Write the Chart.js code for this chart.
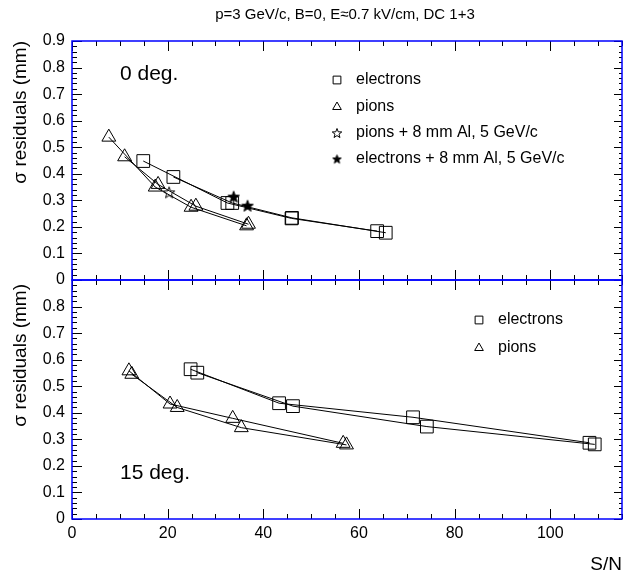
<!DOCTYPE html>
<html>
<head>
<meta charset="utf-8">
<script src="https://cdn.jsdelivr.net/npm/chart.js@4.4.1/dist/chart.umd.min.js"></script>
<style>
  body { margin: 0; background: #fff; }
  #c { display: block; }
</style>
</head>
<body>
<canvas id="c" width="637" height="577"></canvas>
<script>
// S/N axis ticks
var snTicks = [0, 20, 40, 60, 80, 100];

// 0 deg. panel
var top_elecA_sn  = [14.9, 32.5, 45.9, 63.8];
var top_elecA_res = [0.448, 0.290, 0.232, 0.184];
var top_elecB_sn  = [21.2, 33.5, 46.0, 65.6];
var top_elecB_res = [0.388, 0.290, 0.234, 0.178];
var top_pionA_sn  = [7.7, 17.4, 24.9, 36.5];
var top_pionA_res = [0.538, 0.350, 0.274, 0.204];
var top_pionB_sn  = [11.0, 18.0, 25.9, 36.9];
var top_pionB_res = [0.464, 0.360, 0.278, 0.210];
var top_pionAl_sn  = [20.3];
var top_pionAl_res = [0.330];
var top_elecAl_sn  = [33.8, 36.7];
var top_elecAl_res = [0.314, 0.280];

// 15 deg. panel
var bot_elecA_sn  = [24.8, 43.3, 71.3, 108.2];
var bot_elecA_res = [0.564, 0.436, 0.383, 0.287];
var bot_elecB_sn  = [26.2, 46.2, 74.2, 109.3];
var bot_elecB_res = [0.551, 0.425, 0.348, 0.281];
var bot_pionA_sn  = [11.9, 20.5, 33.6, 56.7];
var bot_pionA_res = [0.558, 0.433, 0.379, 0.285];
var bot_pionB_sn  = [12.5, 22.0, 35.4, 57.4];
var bot_pionB_res = [0.545, 0.420, 0.344, 0.279];

var FONT = "'Liberation Sans', Arial, sans-serif";
Chart.defaults.font.family = FONT;
Chart.defaults.color = '#000';

function pts(xs, ys) {
    return xs.map(function(x, i) { return {x: x, y: ys[i]}; });
}

// five pointed star marker, drawn to a small canvas
function makeStar(r, filled) {
    var size = Math.ceil(r * 2 + 2);
    var cv = document.createElement('canvas');
    cv.width = size; cv.height = size;
    var g = cv.getContext('2d');
    var cx = size / 2, cy = size / 2 + r * 0.1;
    g.beginPath();
    for (var i = 0; i < 10; i++) {
        var rr = (i % 2 === 0) ? r : r * 0.42;
        var a = -Math.PI / 2 + i * Math.PI / 5;
        var px = cx + rr * Math.cos(a), py = cy + rr * Math.sin(a);
        if (i === 0) g.moveTo(px, py); else g.lineTo(px, py);
    }
    g.closePath();
    g.lineWidth = 1;
    g.strokeStyle = '#000';
    if (filled) { g.fillStyle = '#000'; g.fill(); }
    g.stroke();
    return cv;
}

var starOpen = makeStar(6, false);
var starFull = makeStar(6, true);
var starOpenSmall = makeStar(5, false);
var starFullSmall = makeStar(4.5, true);

function series(data, axis, style, radius, line) {
    return {
        data: data,
        yAxisID: axis,
        showLine: line,
        borderColor: '#000',
        borderWidth: 1,
        pointStyle: style,
        pointRadius: radius,
        pointHoverRadius: radius,
        pointBorderColor: '#000',
        pointBackgroundColor: 'rgba(0,0,0,0)',
        pointBorderWidth: 1,
        tension: 0
    };
}

var datasets = [
    series(pts(top_elecA_sn, top_elecA_res), 'yTop', 'rect', 9, true),
    series(pts(top_elecB_sn, top_elecB_res), 'yTop', 'rect', 9, true),
    series(pts(top_pionA_sn, top_pionA_res), 'yTop', 'triangle', 8, true),
    series(pts(top_pionB_sn, top_pionB_res), 'yTop', 'triangle', 8, true),
    series(pts(top_pionAl_sn, top_pionAl_res), 'yTop', starOpen, 6, false),
    series(pts(top_elecAl_sn, top_elecAl_res), 'yTop', starFull, 6, false),
    series(pts(bot_elecA_sn, bot_elecA_res), 'yBot', 'rect', 9, true),
    series(pts(bot_elecB_sn, bot_elecB_res), 'yBot', 'rect', 9, true),
    series(pts(bot_pionA_sn, bot_pionA_res), 'yBot', 'triangle', 8, true),
    series(pts(bot_pionB_sn, bot_pionB_res), 'yBot', 'triangle', 8, true)
];

function resLabel(v) {
    return v === 0 ? '0' : v.toFixed(1);
}

function yAxis(hideTop) {
    return {
        type: 'linear',
        position: 'left',
        stack: 'panels',
        stackWeight: 1,
        min: 0,
        max: 0.9,
        grid: { display: false, drawTicks: false },
        border: { display: false },
        ticks: {
            stepSize: 0.1,
            autoSkip: false,
            padding: 7,
            font: { size: 16 },
            callback: function(v) {
                if (hideTop && Math.abs(v - 0.9) < 1e-6) return '';
                return resLabel(v);
            }
        },
        afterFit: function(scale) { scale.width = 72; }
    };
}

// frame, inward ticks and all the text that ROOT puts on the pad
var padDecor = {
    id: 'padDecor',
    afterDraw: function(chart) {
        var ctx = chart.ctx;
        var xs = chart.scales.x;
        var panels = [chart.scales.yTop, chart.scales.yBot];
        var L = xs.left, R = xs.right;
        ctx.save();

        // tick marks
        ctx.strokeStyle = '#000';
        ctx.lineWidth = 1;
        ctx.beginPath();
        panels.forEach(function(ys) {
            var T = ys.top, B = ys.bottom;
            for (var v = 0; v <= 115; v += 5) {
                var px = Math.round(xs.getPixelForValue(v)) + 0.5;
                var len = (v % 20 === 0) ? 10 : 5;
                ctx.moveTo(px, B); ctx.lineTo(px, B - len);
                ctx.moveTo(px, T); ctx.lineTo(px, T + len);
            }
            for (var k = 0; k <= 45; k++) {
                var py = Math.round(ys.getPixelForValue(k * 0.02)) + 0.5;
                var l2 = (k % 5 === 0) ? 10 : 5;
                ctx.moveTo(L, py); ctx.lineTo(L + l2, py);
                ctx.moveTo(R, py); ctx.lineTo(R - l2 + 2, py);
            }
        });
        ctx.stroke();

        // blue pad frames
        ctx.strokeStyle = '#0000ff';
        ctx.lineWidth = 1.5;
        panels.forEach(function(ys) {
            ctx.strokeRect(L, ys.top, R - L, ys.bottom - ys.top);
        });

        // title
        ctx.fillStyle = '#000';
        ctx.textBaseline = 'middle';
        ctx.textAlign = 'center';
        ctx.font = '15px ' + FONT;
        ctx.fillText('p=3 GeV/c, B=0, E\u22480.7 kV/cm, DC 1+3', 345, 15);

        // panel labels
        ctx.textAlign = 'left';
        ctx.font = '21px ' + FONT;
        ctx.fillText('0 deg.', 120, 74);
        ctx.fillText('15 deg.', 120, 473);

        // axis titles
        ctx.font = '19px ' + FONT;
        ctx.textAlign = 'right';
        panels.forEach(function(ys, i) {
            ctx.save();
            ctx.translate(21, ys.top + (i === 0 ? 0 : 4));
            ctx.rotate(-Math.PI / 2);
            ctx.fillText('\u03c3 residuals (mm)', 0, 0);
            ctx.restore();
        });
        ctx.font = '19px ' + FONT;
        ctx.fillText('S/N', R, 565);

        // legends
        var h = Chart.helpers;
        function sym(style, r, x, y) {
            h.drawPoint(ctx, { pointStyle: style, radius: r, rotation: 0, borderWidth: 1 }, x, y);
        }
        ctx.strokeStyle = '#000';
        ctx.fillStyle = 'rgba(0,0,0,0)';
        ctx.lineWidth = 1;
        sym('rect', 5.5, 337, 80);
        sym('triangle', 5, 337, 107);
        sym(starOpenSmall, 5, 337, 133);
        sym(starFullSmall, 5, 337, 159);
        sym('rect', 5.5, 479, 320);
        sym('triangle', 5, 479, 348);

        ctx.fillStyle = '#000';
        ctx.textAlign = 'left';
        ctx.font = '16px ' + FONT;
        ctx.fillText('electrons', 356, 80);
        ctx.fillText('pions', 356, 107);
        ctx.fillText('pions + 8 mm Al, 5 GeV/c', 356, 133);
        ctx.fillText('electrons + 8 mm Al, 5 GeV/c', 356, 159);
        ctx.fillText('electrons', 498, 320);
        ctx.fillText('pions', 498, 348);

        ctx.restore();
    }
};

var chart = new Chart(document.getElementById('c'), {
    type: 'scatter',
    data: { datasets: datasets },
    options: {
        responsive: false,
        animation: false,
        layout: { padding: { top: 41, right: 15, left: 0, bottom: 0 } },
        plugins: {
            legend: { display: false },
            tooltip: { enabled: false },
            title: { display: false }
        },
        scales: {
            x: {
                type: 'linear',
                position: 'bottom',
                min: 0,
                max: 115,
                grid: { display: false, drawTicks: false },
                border: { display: false },
                afterBuildTicks: function(scale) {
                    scale.ticks = snTicks.map(function(v) { return { value: v }; });
                },
                ticks: {
                    padding: 5,
                    font: { size: 16 },
                    callback: function(v) { return String(v); }
                },
                afterFit: function(scale) { scale.height = 58; }
            },
            // stacked axes are placed bottom-up in the order they are listed
            yBot: yAxis(true),
            yTop: yAxis(false)
        }
    },
    plugins: [padDecor]
});
</script>
</body>
</html>
